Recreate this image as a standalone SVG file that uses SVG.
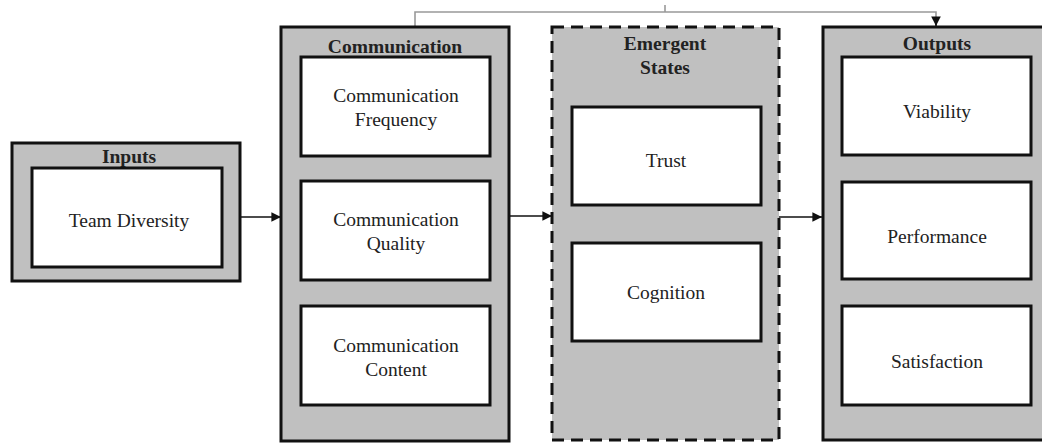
<svg xmlns="http://www.w3.org/2000/svg" width="1042" height="443" viewBox="0 0 1042 443">
  <style>
    .outer { fill: #c0c0c0; stroke: #111; stroke-width: 3; }
    .dashed { fill: #c0c0c0; stroke: #111; stroke-width: 3; stroke-dasharray: 12 7; }
    .inner { fill: #fff; stroke: #111; stroke-width: 3; }
    .title { font-family: "Liberation Serif", "Times New Roman", serif; font-size: 19.5px; font-weight: bold; fill: #222; text-anchor: middle; }
    .label { font-family: "Liberation Serif", "Times New Roman", serif; font-size: 19.5px; fill: #222; text-anchor: middle; }
    .link { fill: none; stroke: #111; stroke-width: 1.6; }
    .feedback { fill: none; stroke: #999; stroke-width: 1.6; }
  </style>
  <defs>
    <marker id="arrow" viewBox="0 0 10 10" refX="10" refY="5" markerWidth="6" markerHeight="6" markerUnits="strokeWidth" orient="auto">
      <path d="M0,0 L10,5 L0,10 Z" fill="#111"/>
    </marker>
  </defs>

  <rect width="1042" height="443" fill="#fff"/>

  <!-- Connectors -->
  <g id="connectors">
    <line class="link" x1="240" y1="217" x2="281" y2="217" marker-end="url(#arrow)"/>
    <line class="link" x1="509" y1="216" x2="552" y2="216" marker-end="url(#arrow)"/>
    <line class="link" x1="779" y1="217" x2="822" y2="217" marker-end="url(#arrow)"/>
    <path class="feedback" d="M415,27 V12 H936 V18"/>
    <line class="feedback" x1="665" y1="5" x2="665" y2="12"/>
    <line class="link" x1="936" y1="17" x2="936" y2="26" marker-end="url(#arrow)"/>
  </g>

  <!-- Inputs -->
  <g id="inputs">
    <rect class="outer" x="12" y="143" width="228" height="138"/>
    <text class="title" x="129" y="163">Inputs</text>
    <rect class="inner" x="32" y="168" width="190" height="99"/>
    <text class="label" x="129" y="227">Team Diversity</text>
  </g>

  <!-- Communication -->
  <g id="communication">
    <rect class="outer" x="281" y="27" width="228" height="414"/>
    <text class="title" x="395" y="53">Communication</text>
    <rect class="inner" x="301" y="57" width="189" height="99"/>
    <text class="label" x="396" y="102">Communication</text>
    <text class="label" x="396" y="126">Frequency</text>
    <rect class="inner" x="301" y="181" width="189" height="99"/>
    <text class="label" x="396" y="226">Communication</text>
    <text class="label" x="396" y="250">Quality</text>
    <rect class="inner" x="301" y="306" width="189" height="99"/>
    <text class="label" x="396" y="352">Communication</text>
    <text class="label" x="396" y="376">Content</text>
  </g>

  <!-- Emergent States -->
  <g id="emergent-states">
    <rect class="dashed" x="552" y="27" width="227" height="413"/>
    <text class="title" x="665" y="50">Emergent</text>
    <text class="title" x="665" y="74">States</text>
    <rect class="inner" x="572" y="107" width="189" height="98"/>
    <text class="label" x="666" y="167">Trust</text>
    <rect class="inner" x="572" y="243" width="189" height="98"/>
    <text class="label" x="666" y="299">Cognition</text>
  </g>

  <!-- Outputs -->
  <g id="outputs">
    <rect class="outer" x="823" y="27" width="240" height="413"/>
    <text class="title" x="937" y="50">Outputs</text>
    <rect class="inner" x="842" y="57" width="189" height="98"/>
    <text class="label" x="937" y="118">Viability</text>
    <rect class="inner" x="842" y="182" width="189" height="97"/>
    <text class="label" x="937" y="243">Performance</text>
    <rect class="inner" x="842" y="306" width="189" height="99"/>
    <text class="label" x="937" y="368">Satisfaction</text>
  </g>
</svg>
